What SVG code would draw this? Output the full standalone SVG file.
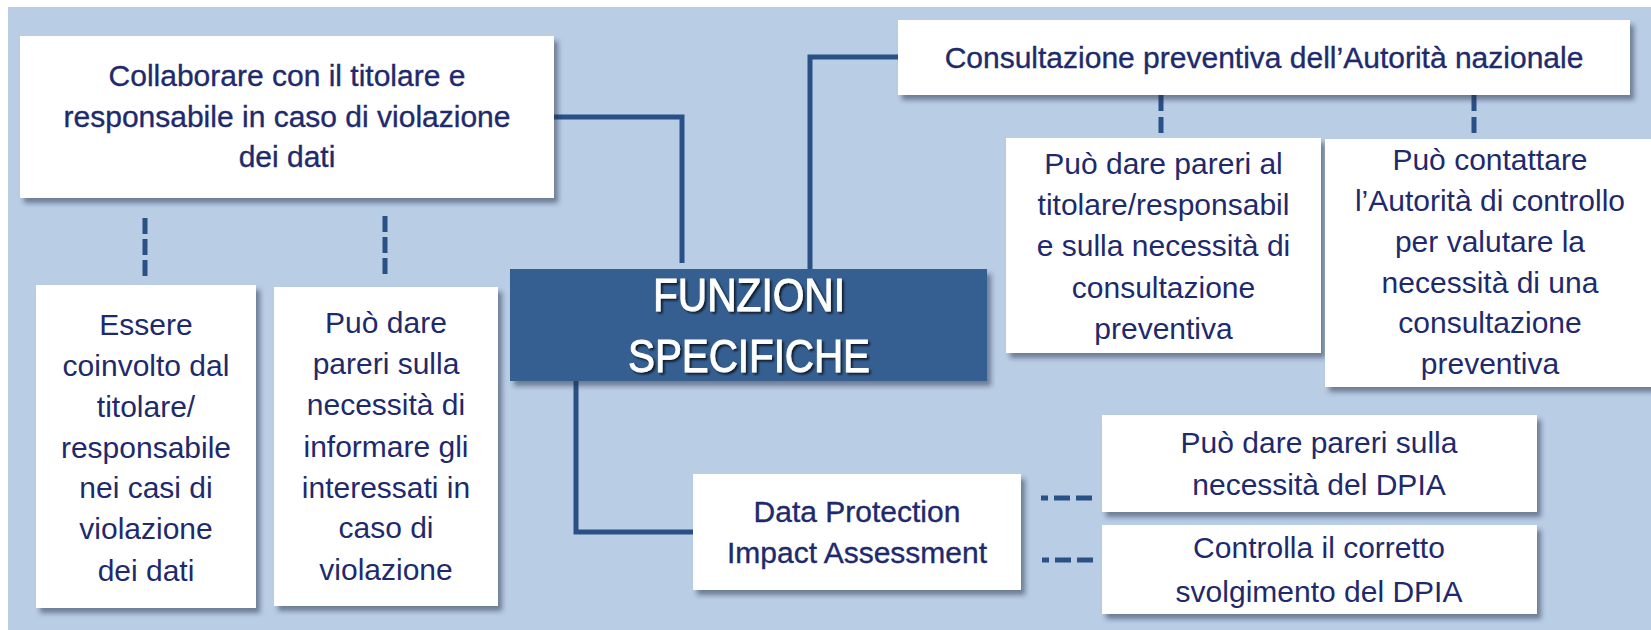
<svg xmlns="http://www.w3.org/2000/svg" width="1651" height="630" viewBox="0 0 1651 630">
<defs>
<filter id="sh" x="-10%" y="-10%" width="130%" height="140%"><feDropShadow dx="4" dy="5" stdDeviation="2.5" flood-color="#1a2a40" flood-opacity="0.5"/></filter>
<filter id="tsh" x="-10%" y="-20%" width="130%" height="150%"><feDropShadow dx="2" dy="2" stdDeviation="1.2" flood-color="#000" flood-opacity="0.7"/></filter>
</defs>
<style>
.box{fill:#fff;filter:url(#sh)}
.t{font-family:"Liberation Sans",Arial,sans-serif;font-size:30px;fill:#1e2a6c;text-anchor:middle}
.h{stroke:#1e2a6c;stroke-width:0.35}
.conn{fill:none;stroke:#2a5185;stroke-width:5}
.dash{fill:none;stroke:#2a5185;stroke-width:5}
.main{font-family:"Liberation Sans",Arial,sans-serif;font-size:46px;fill:#fff;stroke:#fff;stroke-width:0.9;text-anchor:middle;filter:url(#tsh)}
</style>
<rect x="8" y="7" width="1643" height="623" fill="#b9cde5"/>
<g id="connectors">
<path class="conn" d="M554,117 H682 V263"/>
<path class="conn" d="M810,269 V57 H899"/>
<path class="conn" d="M576,381 V532 H693"/>
<line class="dash" x1="145" y1="218" x2="145" y2="278" stroke-dasharray="16 5"/>
<line class="dash" x1="385" y1="216" x2="385" y2="276" stroke-dasharray="16 5"/>
<line class="dash" x1="1161" y1="95" x2="1161" y2="134" stroke-dasharray="16 6"/>
<line class="dash" x1="1474" y1="95" x2="1474" y2="134" stroke-dasharray="16 6"/>
<line class="dash" x1="1041" y1="498" x2="1093" y2="498" stroke-dasharray="7 6 16 6 16 100"/>
<line class="dash" x1="1042" y1="560" x2="1095" y2="560" stroke-dasharray="7 6 16 6 16 100"/>
</g>
<g id="collaborare">
<rect class="box" x="20" y="36" width="534" height="162"/>
<text class="t h"><tspan x="287" y="86">Collaborare con il titolare e</tspan><tspan x="287" y="127">responsabile in caso di violazione</tspan><tspan x="287" y="167">dei dati</tspan></text>
</g>
<g id="consultazione">
<rect class="box" x="898" y="20" width="732" height="75"/>
<text class="t h" x="1264" y="68">Consultazione preventiva dell’Autorità nazionale</text>
</g>
<g id="funzioni">
<rect x="510" y="269" width="477" height="112" fill="#365f91" filter="url(#sh)"/>
<text class="main"><tspan x="749" y="311" textLength="192" lengthAdjust="spacingAndGlyphs">FUNZIONI</tspan><tspan x="749" y="372" textLength="242" lengthAdjust="spacingAndGlyphs">SPECIFICHE</tspan></text>
</g>
<g id="essere">
<rect class="box" x="36" y="285" width="220" height="323"/>
<text class="t"><tspan x="146" y="335">Essere</tspan><tspan x="146" y="376">coinvolto dal</tspan><tspan x="146" y="417">titolare/</tspan><tspan x="146" y="458">responsabile</tspan><tspan x="146" y="498">nei casi di</tspan><tspan x="146" y="539">violazione</tspan><tspan x="146" y="581">dei dati</tspan></text>
</g>
<g id="pareri-informare">
<rect class="box" x="274" y="287" width="224" height="319"/>
<text class="t"><tspan x="386" y="333">Può dare</tspan><tspan x="386" y="374">pareri sulla</tspan><tspan x="386" y="415">necessità di</tspan><tspan x="386" y="457">informare gli</tspan><tspan x="386" y="498">interessati in</tspan><tspan x="386" y="538">caso di</tspan><tspan x="386" y="580">violazione</tspan></text>
</g>
<g id="pareri-titolare">
<rect class="box" x="1006" y="138" width="315" height="215"/>
<text class="t"><tspan x="1163.5" y="174">Può dare pareri al</tspan><tspan x="1163.5" y="215">titolare/responsabil</tspan><tspan x="1163.5" y="256">e sulla necessità di</tspan><tspan x="1163.5" y="298">consultazione</tspan><tspan x="1163.5" y="339">preventiva</tspan></text>
</g>
<g id="contattare">
<rect class="box" x="1325" y="139" width="335" height="248"/>
<text class="t"><tspan x="1490" y="170">Può contattare</tspan><tspan x="1490" y="211">l’Autorità di controllo</tspan><tspan x="1490" y="252">per valutare la</tspan><tspan x="1490" y="293">necessità di una</tspan><tspan x="1490" y="333">consultazione</tspan><tspan x="1490" y="374">preventiva</tspan></text>
</g>
<g id="dpia">
<rect class="box" x="693" y="474" width="328" height="116"/>
<text class="t h"><tspan x="857" y="522">Data Protection</tspan><tspan x="857" y="563">Impact Assessment</tspan></text>
</g>
<g id="dpia-pareri">
<rect class="box" x="1102" y="415" width="435" height="97"/>
<text class="t"><tspan x="1319" y="453">Può dare pareri sulla</tspan><tspan x="1319" y="495">necessità del DPIA</tspan></text>
</g>
<g id="dpia-controlla">
<rect class="box" x="1102" y="525" width="435" height="89"/>
<text class="t"><tspan x="1319" y="558">Controlla il corretto</tspan><tspan x="1319" y="602">svolgimento del DPIA</tspan></text>
</g>
</svg>
